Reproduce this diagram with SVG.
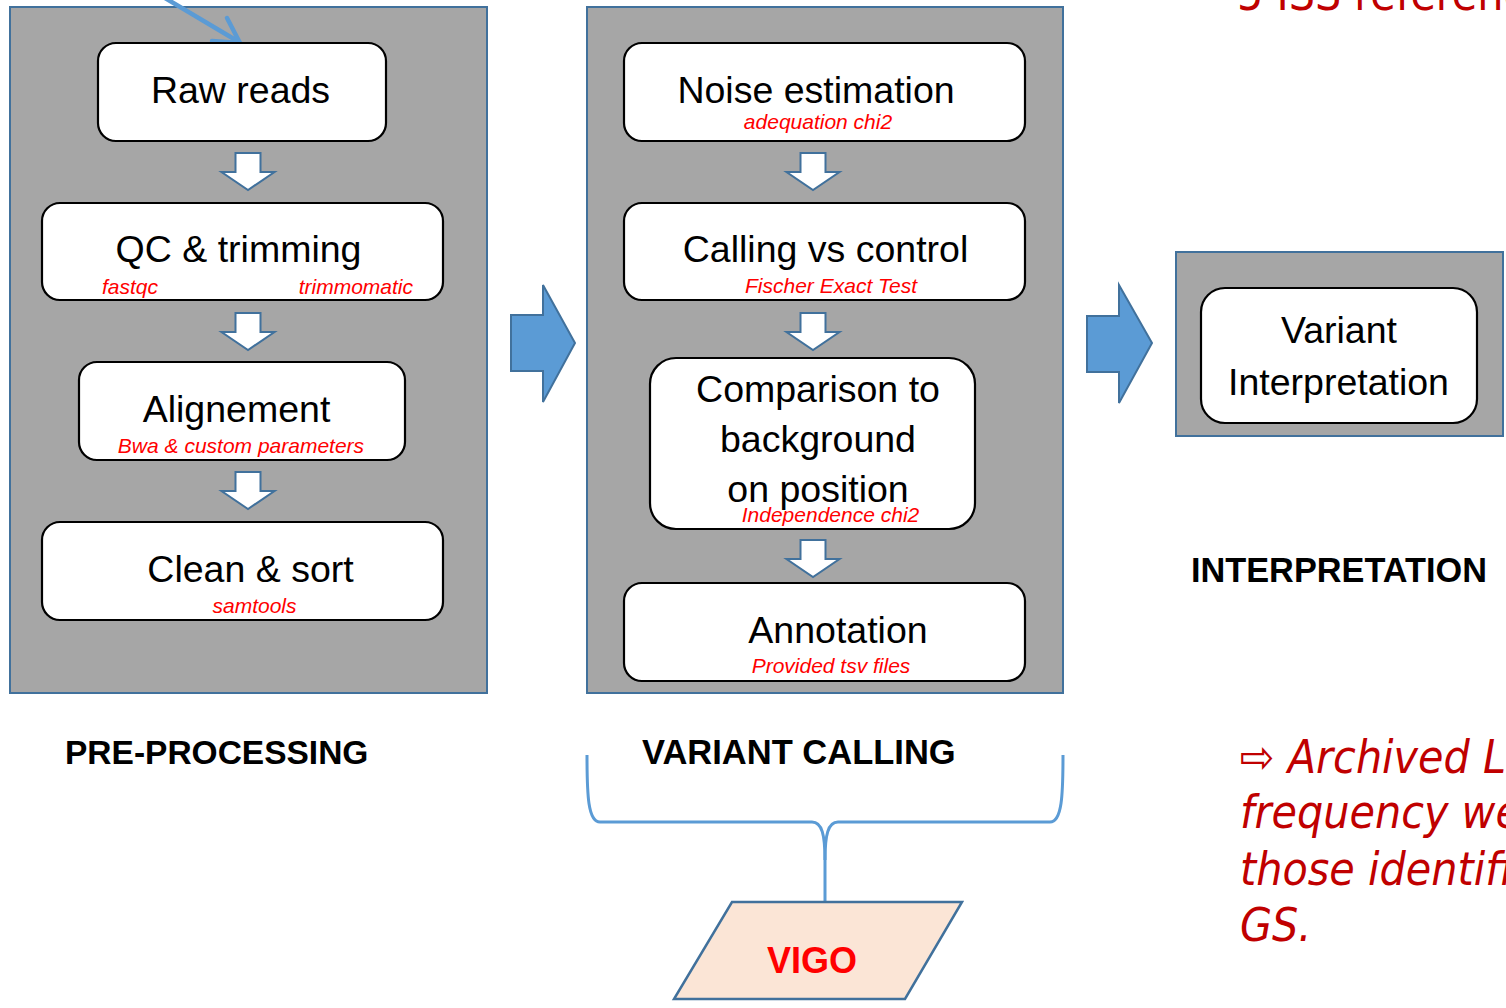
<svg xmlns="http://www.w3.org/2000/svg" width="1506" height="1008" viewBox="0 0 1506 1008">
<style>
.panel{fill:#A6A6A6;stroke:#41719C;stroke-width:2}
.node{fill:#FFFFFF;stroke:#000000;stroke-width:2.2}
.t{font-family:"Liberation Sans",Arial,sans-serif;font-size:37.5px;fill:#000;text-anchor:middle}
.s{font-family:"Liberation Sans",Arial,sans-serif;font-size:21px;font-style:italic;fill:#FF0000;text-anchor:middle}
.h{font-family:"Liberation Sans",Arial,sans-serif;font-size:33.5px;font-weight:bold;fill:#000}
.dn{fill:#FFFFFF;stroke:#41719C;stroke-width:2}
.big{fill:#5B9BD5;stroke:#41719C;stroke-width:2}
.red{font-family:"DejaVu Sans Condensed","DejaVu Sans",sans-serif;font-stretch:condensed;font-size:46px;fill:#C00000}
</style>
<rect width="1506" height="1008" fill="#FFFFFF"/>

<g id="panels">
<rect id="panel-preprocessing" class="panel" x="10" y="7" width="477" height="686"/>
<rect id="panel-variant-calling" class="panel" x="587" y="7" width="476" height="686"/>
<rect id="panel-interpretation" class="panel" x="1176" y="252" width="327" height="184"/>
</g>

<g id="connectors">
<path class="dn" d="M235.5,153 h25 v19 h14 L248,190 L221.5,172 h14 z"/>
<path class="dn" d="M235.5,313 h25 v19 h14 L248,350 L221.5,332 h14 z"/>
<path class="dn" d="M235.5,472 h25 v19 h14 L248,509 L221.5,491 h14 z"/>
<path class="dn" d="M800.5,153 h25 v19 h14 L813,190 L786.5,172 h14 z"/>
<path class="dn" d="M800.5,313 h25 v19 h14 L813,350 L786.5,332 h14 z"/>
<path class="dn" d="M800.5,540 h25 v19 h14 L813,577 L786.5,559 h14 z"/>
<path class="big" d="M511,315 H543 V285 L575,343 L543,402 V371 H511 Z"/>
<path class="big" d="M1087,316 H1119 V285 L1152,343 L1119,403 V372 H1087 Z"/>
<g fill="none" stroke="#5B9BD5" stroke-width="4.5" stroke-linecap="round" stroke-linejoin="round">
<path d="M165,-2 L239,42"/>
<path d="M212,41 L240,43 L227,18"/>
</g>
<g fill="none" stroke="#5B9BD5" stroke-width="3">
<path d="M587,755 C587,795 588,822 600,822 H812 C822,822 825,835 825,860 V902"/>
<path d="M1063,755 C1063,795 1062,822 1050,822 H838 C828,822 825,835 825,860"/>
</g>
</g>

<g id="node-raw-reads">
<rect class="node" x="98" y="43" width="288" height="98" rx="18"/>
<text class="t" x="240.5" y="103">Raw reads</text>
</g>
<g id="node-qc-trimming">
<rect class="node" x="42" y="203" width="401" height="97" rx="18"/>
<text class="t" x="238.5" y="262">QC &amp; trimming</text>
<text class="s" x="102" y="294" style="text-anchor:start">fastqc</text>
<text class="s" x="413" y="294" style="text-anchor:end">trimmomatic</text>
</g>
<g id="node-alignement">
<rect class="node" x="79" y="362" width="326" height="98" rx="18"/>
<text class="t" x="236.5" y="422">Alignement</text>
<text class="s" x="241" y="453">Bwa &amp; custom parameters</text>
</g>
<g id="node-clean-sort">
<rect class="node" x="42" y="522" width="401" height="98" rx="18"/>
<text class="t" x="250.5" y="582">Clean &amp; sort</text>
<text class="s" x="254.5" y="613">samtools</text>
</g>

<g id="node-noise-estimation">
<rect class="node" x="624" y="43" width="401" height="98" rx="18"/>
<text class="t" x="816" y="103">Noise estimation</text>
<text class="s" x="818" y="129">adequation chi2</text>
</g>
<g id="node-calling-vs-control">
<rect class="node" x="624" y="203" width="401" height="97" rx="18"/>
<text class="t" x="825.5" y="262">Calling vs control</text>
<text class="s" x="831" y="293">Fischer Exact Test</text>
</g>
<g id="node-comparison">
<rect class="node" x="650" y="358" width="325" height="171" rx="26"/>
<text class="t" x="818" y="402">Comparison to</text>
<text class="t" x="818" y="452">background</text>
<text class="t" x="818" y="502">on position</text>
<text class="s" x="830.5" y="522">Independence chi2</text>
</g>
<g id="node-annotation">
<rect class="node" x="624" y="583" width="401" height="98" rx="18"/>
<text class="t" x="838" y="643">Annotation</text>
<text class="s" x="831" y="673">Provided tsv files</text>
</g>

<g id="node-variant-interpretation">
<rect class="node" x="1201" y="288" width="276" height="135" rx="24"/>
<text class="t" x="1339" y="343">Variant</text>
<text class="t" x="1338.5" y="395">Interpretation</text>
</g>

<g id="node-vigo">
<polygon points="732,902 962,902 905,999 674,999" fill="#FBE5D6" stroke="#41719C" stroke-width="2.5"/>
<text x="812" y="973" font-family="'Liberation Sans',Arial,sans-serif" font-size="36" font-weight="bold" fill="#FF0000" text-anchor="middle">VIGO</text>
</g>

<g id="labels">
<text class="h" x="65" y="764">PRE-PROCESSING</text>
<text class="h" x="642" y="764" style="font-size:34.5px">VARIANT CALLING</text>
<text class="h" x="1191" y="582" style="font-size:34.3px">INTERPRETATION</text>
<text class="red" x="1237" y="10">5 ISS reference</text>
<g class="red" font-style="italic">
<text x="1240" y="773">⇨ Archived L</text>
<text x="1240" y="828">frequency we</text>
<text x="1240" y="885">those identifi</text>
<text x="1240" y="941">GS.</text>
</g>
</g>
</svg>
